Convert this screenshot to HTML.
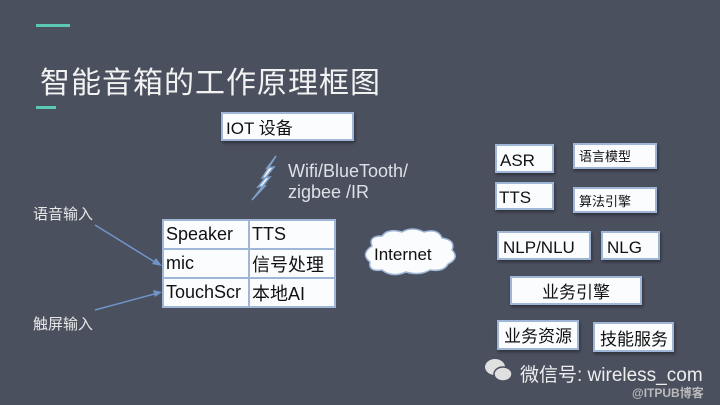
<!DOCTYPE html>
<html><head><meta charset="utf-8"><style>
body{margin:0;width:720px;height:405px;background:#4b505f;position:relative;overflow:hidden;font-family:"Liberation Sans","Noto Sans CJK SC",sans-serif}
.a{position:absolute}
.b{position:absolute;background:#fbfcfe;border:2px solid #9fb6d6;box-sizing:border-box;color:#111;font-size:17px;line-height:1;white-space:nowrap;box-shadow:1px 2px 3px rgba(0,0,0,.4)}
.t td{border:2px solid #9fb6d6;background:#fbfcfe;font-size:18px;color:#111;padding:0 2px;height:27px;white-space:nowrap}
</style></head><body>
<div class="a" style="left:36px;top:24px;width:34px;height:3px;background:#5cc8b4"></div>
<div class="a" style="left:36px;top:106px;width:20px;height:3px;background:#5cc8b4"></div>
<div class="a" style="left:40px;top:58px;font-size:30px;color:#f2f2f2;letter-spacing:1px">智能音箱的工作原理框图</div>
<div class="b" style="left:221px;top:112px;width:133px;height:29px;padding:6px 0 0 3px">IOT 设备</div>
<svg class="a" style="left:0;top:0" width="720" height="405">
<polygon points="276,156 262,178 270,177 252,200 265,186 258,187 274,167 267,168" fill="#eef2f8" stroke="#7fa0c8" stroke-width="1.5"/>
<path d="M372,246 q-4,-10 10,-10 q6,-8 20,-4 q10,-6 22,0 q14,-4 18,6 q14,2 10,12 q8,8 -4,14 q-4,8 -18,6 q-10,6 -24,2 q-14,6 -24,-2 q-14,2 -12,-8 q-10,-8 2,-16z" fill="#fbfcfe" stroke="#9fb6d6" stroke-width="1.5"/>
<line x1="95" y1="225" x2="158" y2="264" stroke="#6f95c8" stroke-width="1.5"/>
<polygon points="162,266 152,264 156,258" fill="#6f95c8"/>
<line x1="95" y1="310" x2="158" y2="293" stroke="#6f95c8" stroke-width="1.5"/>
<polygon points="162,292 153,290 155,297" fill="#6f95c8"/>
</svg>
<div class="a" style="left:288px;top:161px;font-size:18px;line-height:21px;color:#dde0e6">Wifi/BlueTooth/<br>zigbee /IR</div>
<div class="a" style="left:374px;top:245px;font-size:17px;color:#111">Internet</div>
<div class="a" style="left:33px;top:203px;font-size:15px;color:#e8e8e8">语音输入</div>
<div class="a" style="left:33px;top:313px;font-size:15px;color:#e8e8e8">触屏输入</div>
<table class="a t" style="left:162px;top:219px;border-collapse:collapse;width:174px">
<tr><td style="width:80px">Speaker</td><td>TTS</td></tr>
<tr><td>mic</td><td>信号处理</td></tr>
<tr><td>TouchScr</td><td>本地AI</td></tr></table>
<div class="b" style="left:495px;top:144px;width:59px;height:29px;padding:6px 0 0 3px">ASR</div>
<div class="b" style="left:573px;top:143px;width:84px;height:26px;padding:5px 0 0 4px;font-size:13px">语言模型</div>
<div class="b" style="left:495px;top:182px;width:59px;height:28px;padding:5px 0 0 2px">TTS</div>
<div class="b" style="left:573px;top:187px;width:84px;height:26px;padding:6px 0 0 4px;font-size:13px">算法引擎</div>
<div class="b" style="left:497px;top:231px;width:94px;height:29px;padding:6px 0 0 4px">NLP/NLU</div>
<div class="b" style="left:601px;top:231px;width:59px;height:29px;padding:6px 0 0 4px">NLG</div>
<div class="b" style="left:510px;top:276px;width:132px;height:29px;padding:6px 0 0 0;text-align:center">业务引擎</div>
<div class="b" style="left:497px;top:320px;width:82px;height:30px;padding:6px 0 0 5px">业务资源</div>
<div class="b" style="left:593px;top:322px;width:81px;height:30px;padding:7px 0 0 5px">技能服务</div>
<svg class="a" style="left:484px;top:357px" width="30" height="28"><ellipse cx="11" cy="10" rx="10" ry="8" fill="#e0e0e0"/><ellipse cx="19" cy="17" rx="9" ry="7" fill="#e0e0e0" stroke="#4b505f" stroke-width="1.5"/></svg>
<div class="a" style="left:520px;top:360px;font-size:19px;color:#eee">微信号: wireless_com</div>
<div class="a" style="left:632px;top:384px;font-size:12px;color:#bbb;font-weight:bold">@ITPUB博客</div>
</body></html>
